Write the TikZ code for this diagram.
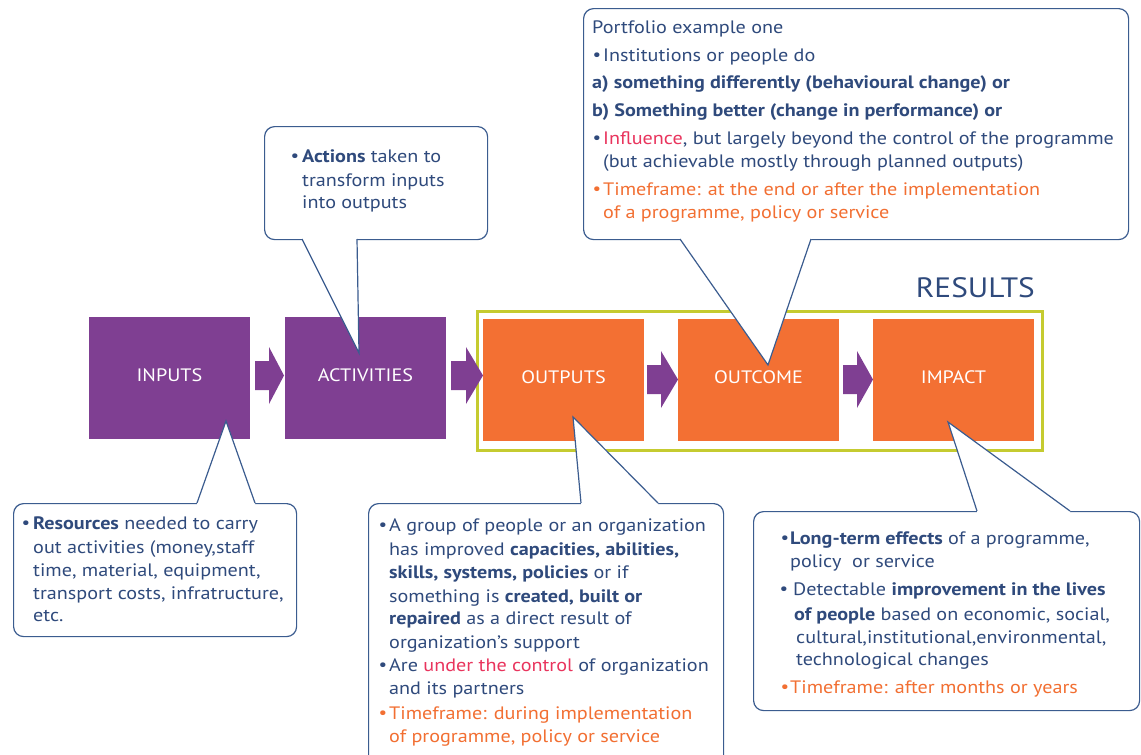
\documentclass[tikz,border=0pt]{standalone}
\usepackage{fontspec}
\setmainfont{PT Sans}[FakeStretch=1.12]
\usetikzlibrary{calc}
\definecolor{pur}{HTML}{7F3F92}
\definecolor{org}{HTML}{F37033}
\definecolor{grn}{HTML}{C5CB30}
\definecolor{tblue}{HTML}{2F4A7C}
\definecolor{bord}{HTML}{3B5C8F}
\definecolor{pinkc}{HTML}{E9345D}
\definecolor{otxt}{HTML}{F26F32}
\newcommand\bul{\kern-1.5pt\raisebox{0.6pt}{\fontsize{17}{17}\selectfont\textbullet}}
\newcommand\bl{\makebox[9pt][l]{\bul}}
\tikzset{
  stagebox/.style={draw=none, minimum width=161pt, minimum height=122pt, inner sep=0pt},
  pbox/.style={stagebox, fill=pur},
  obox/.style={stagebox, fill=org},
  lbl/.style={text=white, inner sep=0pt, font=\fontsize{18}{20}\selectfont},
  cbox/.style={draw=bord, fill=white, line width=1.2pt, rounded corners=10pt, inner sep=0pt, anchor=north west},
  ln/.style={anchor=base west, inner sep=0pt, text=tblue, font=\fontsize{18}{20}\selectfont},
  ptr/.style={draw=bord, line width=1.2pt},
  barrow/.style={fill=pur}
}
\begin{document}
\begin{tikzpicture}[x=1pt,y=-1pt]
\useasboundingbox (0,0) rectangle (1141,755);
% results frame
\node[draw=grn, line width=3pt, minimum width=565pt, minimum height=139pt, inner sep=0pt, anchor=north west] (res) at (476,310) {};
\node[anchor=base east, inner sep=0pt, text=tblue, font=\fontsize{28}{30}\selectfont] (restxt) at (1035,297) {RESULTS};
% stage boxes
\node[pbox] (in) at (169.5,378) {};
\node[pbox] (act) at (365.5,378) {};
\node[obox] (out) at (563.5,380) {};
\node[obox] (oc) at (758.5,380) {};
\node[obox] (im) at (953.5,380) {};
\node[lbl] (inL) at (169.5,375) {INPUTS};
\node[lbl] (actL) at (365.5,375) {ACTIVITIES};
\node[lbl] (outL) at (563.5,377) {OUTPUTS};
\node[lbl] (ocL) at (758.5,377) {OUTCOME};
\node[lbl] (imL) at (953.5,377) {IMPACT};
% block arrows
\newcommand\barr[4]{\fill[barrow] (#1,#4-14.5) -- (#2,#4-14.5) -- (#2,#4-28.5) -- (#3,#4) -- (#2,#4+28.5) -- (#2,#4+14.5) -- (#1,#4+14.5) -- cycle;}
\barr{255}{269}{284}{375.5}
\barr{451}{466}{483}{375.5}
\barr{647}{661}{678}{379.5}
\barr{843}{857}{873}{379.5}
% top (outcome) callout
\node[cbox, minimum width=545pt, minimum height=231pt] (cOc) at (583,8) {};
\coordinate (tOc) at (768,365);
\fill[white] (680,236) -- (680,240) -- (tOc) -- (811,240) -- (811,236) -- cycle;
\draw[ptr] (680,239) -- (tOc) -- (811,239);
% activities callout
\node[cbox, minimum width=223pt, minimum height=113pt] (cAct) at (264,126) {};
\coordinate (tAct) at (359,353);
\fill[white] (302,236) -- (302,240) -- (tAct) -- (357,240) -- (357,236) -- cycle;
\draw[ptr] (302,239) -- (tAct) -- (357,239);
% inputs callout
\node[cbox, minimum width=283pt, minimum height=133pt] (cIn) at (13,503) {};
\coordinate (tIn) at (226,421);
\fill[white] (197,506) -- (197,502) -- (tIn) -- (255,502) -- (255,506) -- cycle;
\draw[ptr] (197,503) -- (tIn) -- (255,503);
% outputs callout
\node[cbox, minimum width=355pt, minimum height=270pt] (cOut) at (368,503) {};
\coordinate (tOut) at (573,417);
\fill[white] (581,506) -- (581,502) -- (tOut) -- (658,502) -- (658,506) -- cycle;
\draw[ptr] (581,503) -- (tOut) -- (658,503);
% impact callout
\node[cbox, minimum width=386pt, minimum height=199pt] (cIm) at (753,511) {};
\coordinate (tIm) at (948,422);
\fill[white] (977,514) -- (977,510) -- (tIm) -- (1070,510) -- (1070,514) -- cycle;
\draw[ptr] (977,511) -- (tIm) -- (1070,511);
% texts: outcome
\node[ln] (o1) at (592,33) {Portfolio example one};
\node[ln] (o2) at (594,61) {\bl Institutions or people do};
\node[ln] (o3) at (592,88) {\textbf{a) something differently (behavioural change) or}};
\node[ln] (o4) at (592,116) {\textbf{b) Something better (change in performance) or}};
\node[ln] (o5) at (594,144) {\bl\textcolor{pinkc}{Influence}, but largely beyond the control of the programme};
\node[ln] (o6) at (603,167) {(but achievable mostly through planned outputs)};
\node[ln,text=otxt] (o7) at (594,195) {\bl Timeframe: at the end or after the implementation};
\node[ln,text=otxt] (o8) at (603,218) {of a programme, policy or service};
% activities
\node[ln] (a1) at (292,162) {\makebox[10pt][l]{\bul}\textbf{Actions} taken to};
\node[ln] (a2) at (302,186) {transform inputs};
\node[ln] (a3) at (302,208) {into outputs};
% inputs
\node[ln] (i1) at (23,529) {\makebox[10pt][l]{\bul}\textbf{Resources} needed to carry};
\node[ln] (i2) at (33,553) {out activities (money,staff};
\node[ln] (i3) at (33,576) {time, material, equipment,};
\node[ln] (i4) at (33,599) {transport costs, infratructure,};
\node[ln] (i5) at (33,621) {etc.};
% outputs
\node[ln] (p1) at (380,531) {\bl A group of people or an organization};
\node[ln] (p2) at (389,555) {has improved \textbf{capacities, abilities,}};
\node[ln] (p3) at (389,578) {\textbf{skills, systems, policies} or if};
\node[ln] (p4) at (389,602) {something is \textbf{created, built or}};
\node[ln] (p5) at (389,624) {\textbf{repaired} as a direct result of};
\node[ln] (p6) at (389,648) {organization’s support};
\node[ln] (p7) at (380,671) {\bl Are \textcolor{pinkc}{under the control} of organization};
\node[ln] (p8) at (389,694) {and its partners};
\node[ln,text=otxt] (p9) at (380,719) {\bl Timeframe: during implementation};
\node[ln,text=otxt] (p10) at (389,742) {of programme, policy or service};
% impact
\node[ln] (m1) at (782,544) {\makebox[8pt][l]{\bul}\textbf{Long-term effects} of a programme,};
\node[ln] (m2) at (790,567) {policy\ \ or service};
\node[ln] (m3) at (781,595) {\makebox[12pt][l]{\bul}Detectable \textbf{improvement in the lives}};
\node[ln] (m4) at (794,620) {\textbf{of people} based on economic, social,};
\node[ln] (m5) at (796,643) {cultural,institutional,environmental,};
\node[ln] (m6) at (796,665) {technological changes};
\node[ln,text=otxt] (m7) at (782,693) {\makebox[8pt][l]{\bul}Timeframe: after months or years};
\end{tikzpicture}
\end{document}
